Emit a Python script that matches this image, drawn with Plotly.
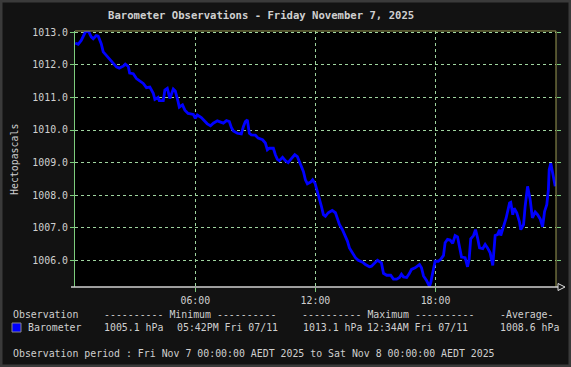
import plotly.graph_objects as go

W, H = 571, 367
ML, MR, MT, MB = 75, 15, 31, 80
PW, PH = W - ML - MR, H - MT - MB

def px(x):
    return (x - ML) / PW

def py(y):
    return (H - MB - y) / PH

# ---- data (hours since midnight, hPa) ----
hours = [0, 0.15, 0.3, 0.5, 0.65, 0.8, 0.9, 1.05, 1.15, 1.3, 1.4, 1.55, 1.73, 1.9, 2.06, 2.2, 2.4, 2.5,
         2.65, 2.72, 2.9, 3.06, 3.2, 3.4, 3.56, 3.73, 3.9, 3.98, 4.14, 4.2, 4.4, 4.48, 4.6, 4.73, 4.9, 5.0,
         5.14, 5.2, 5.36, 5.48, 5.64, 5.9, 6.0, 6.1, 6.3, 6.47, 6.6, 6.76, 6.9, 7.1, 7.26, 7.4, 7.56, 7.7,
         7.8, 7.9, 8.1, 8.3, 8.4, 8.5, 8.6, 8.7, 8.8, 9.0, 9.14, 9.36, 9.5, 9.6, 9.7, 9.9, 10.0, 10.1, 10.2,
         10.36, 10.5, 10.64, 10.8, 10.97, 11.1, 11.26, 11.4, 11.5, 11.6, 11.76, 11.86, 11.98, 12.1, 12.2,
         12.3, 12.4, 12.5, 12.64, 12.84, 13.0, 13.1, 13.2, 13.35, 13.5, 13.6, 13.7, 13.86, 14.0, 14.14,
         14.36, 14.5, 14.7, 14.8, 15.0, 15.1, 15.3, 15.4, 15.56, 15.76, 15.9, 16.06, 16.2, 16.3, 16.4,
         16.56, 16.7, 16.8, 16.98, 17.1, 17.2, 17.3, 17.4, 17.56, 17.7, 17.76, 17.86, 17.98, 18.14, 18.26,
         18.4, 18.48, 18.6, 18.73, 18.86, 18.98, 19.1, 19.2, 19.3, 19.48, 19.6, 19.68, 19.76, 19.9, 20.0,
         20.1, 20.2, 20.36, 20.48, 20.6, 20.73, 20.86, 20.98, 21.1, 21.2, 21.26, 21.4, 21.53, 21.7, 21.76,
         21.86, 21.93, 22.06, 22.2, 22.26, 22.4, 22.48, 22.6, 22.73, 22.84, 22.98, 23.1, 23.23, 23.35,
         23.45, 23.56, 23.64, 23.68, 23.76, 23.84, 23.93, 23.98]
pressure = [1012.67, 1012.63, 1012.75, 1013.0, 1013.05, 1012.86, 1012.8, 1012.9, 1012.88, 1012.65, 1012.4,
            1012.3, 1012.15, 1012.06, 1011.94, 1011.9, 1011.96, 1012.02, 1011.95, 1011.75, 1011.73, 1011.58,
            1011.51, 1011.43, 1011.30, 1011.32, 1011.13, 1010.94, 1011.0, 1010.9, 1010.9, 1011.23, 1011.28,
            1010.97, 1011.26, 1011.2, 1010.87, 1010.7, 1010.77, 1010.61, 1010.51, 1010.48, 1010.36, 1010.46,
            1010.38, 1010.26, 1010.19, 1010.13, 1010.21, 1010.28, 1010.24, 1010.21, 1010.29, 1010.26,
            1010.08, 1009.97, 1009.9, 1009.88, 1010.1, 1010.26, 1010.31, 1009.9, 1009.85, 1009.84, 1009.75,
            1009.7, 1009.6, 1009.39, 1009.44, 1009.44, 1009.24, 1009.1, 1009.06, 1009.16, 1009.06, 1009.0,
            1009.12, 1009.24, 1009.18, 1008.93, 1008.73, 1008.47, 1008.35, 1008.4, 1008.47, 1008.37,
            1008.12, 1007.86, 1007.66, 1007.40, 1007.35, 1007.46, 1007.53, 1007.46, 1007.3, 1007.1,
            1006.94, 1006.74, 1006.59, 1006.38, 1006.23, 1006.08, 1006.0, 1005.94, 1005.87, 1005.80,
            1005.82, 1005.94, 1006.0, 1005.92, 1005.6, 1005.54, 1005.54, 1005.42, 1005.42, 1005.47,
            1005.57, 1005.49, 1005.47, 1005.6, 1005.72, 1005.77, 1005.82, 1005.87, 1005.77, 1005.52,
            1005.37, 1005.2, 1005.31, 1005.57, 1005.97, 1005.97, 1006.03, 1006.15, 1006.54, 1006.64,
            1006.62, 1006.52, 1006.76, 1006.72, 1006.38, 1006.1, 1006.08, 1005.80, 1006.03, 1006.66,
            1006.76, 1006.94, 1006.69, 1006.38, 1006.36, 1006.49, 1006.38, 1006.23, 1005.84, 1006.76,
            1006.79, 1006.94, 1006.76, 1007.06, 1007.3, 1007.76, 1007.78, 1007.4, 1007.6, 1007.46,
            1007.17, 1006.94, 1007.1, 1007.66, 1008.27, 1007.86, 1007.3, 1007.48, 1007.4, 1007.27,
            1007.03, 1007.5, 1007.71, 1008.17, 1008.78, 1008.98, 1008.68, 1008.42, 1008.27]

x_tickvals = [6, 12, 18]
x_ticktext = ["06:00", "12:00", "18:00"]
y_tickvals = [1006, 1007, 1008, 1009, 1010, 1011, 1012, 1013]
y_range = [1005.18, 1013.04]

title = "Barometer Observations - Friday November 7, 2025"
y_title = "Hectopascals"
series_name = "Barometer"
min_text, min_time = "1005.1 hPa", "05:42PM Fri 07/11"
max_text, max_time = "1013.1 hPa", "12:34AM Fri 07/11"
avg_text = "1008.6 hPa"
period = "Observation period : Fri Nov 7 00:00:00 AEDT 2025 to Sat Nov 8 00:00:00 AEDT 2025"

MONO = "DejaVu Sans Mono"
TXT = "#cfcfcf"
GRID = "#9fd49f"
TICK = "#7ccc7c"
OLIVE = "#9a9a52"
FS = 9.9

fig = go.Figure()
fig.add_trace(go.Scatter(x=hours, y=pressure, mode="lines",
                         line=dict(color="#0000ff", width=2.8), name=series_name,
                         showlegend=False))

fig.update_layout(
    width=W, height=H,
    margin=dict(l=ML, r=MR, t=MT, b=MB),
    paper_bgcolor="#121212", plot_bgcolor="#000000",
    font=dict(family=MONO, color=TXT, size=FS),
    xaxis=dict(range=[-0.01, 24.02], tickvals=x_tickvals, ticktext=x_ticktext,
               showgrid=True, gridcolor=GRID, griddash="dot", gridwidth=1,
               ticks="outside", ticklen=4, tickcolor=TICK,
               tickfont=dict(family=MONO, size=FS, color=TXT),
               showline=False, zeroline=False, fixedrange=True),
    yaxis=dict(range=y_range, tickvals=y_tickvals, tickformat=".1f",
               showgrid=True, gridcolor=GRID, griddash="dot", gridwidth=1,
               ticks="outside", ticklen=4, tickcolor=TICK,
               showline=True, linecolor=TICK, linewidth=1,
               tickfont=dict(family=MONO, size=FS, color=TXT),
               zeroline=False, fixedrange=True),
    yaxis2=dict(range=y_range, tickvals=y_tickvals, overlaying="y", side="right",
                showgrid=False, showticklabels=False, ticks="outside", ticklen=4,
                tickcolor=TICK, showline=False, zeroline=False, fixedrange=True),
)
# invisible trace to activate the right-hand tick axis
fig.add_trace(go.Scatter(x=[hours[0]], y=[pressure[0]], yaxis="y2", mode="markers",
                         marker=dict(opacity=0), showlegend=False, hoverinfo="skip"))

shapes = [
    dict(type="rect", xref="paper", yref="paper", x0=px(1), x1=px(W - 1), y0=py(H - 1), y1=py(1),
         line=dict(color="#3a3a3a", width=3), layer="below"),
    dict(type="line", xref="paper", yref="paper", x0=0, x1=1, y0=1, y1=1,
         line=dict(color=OLIVE, width=1)),
    dict(type="line", xref="paper", yref="paper", x0=1, x1=1, y0=0, y1=1,
         line=dict(color=OLIVE, width=1)),
    dict(type="line", xref="paper", yref="paper", x0=px(71), x1=px(560), y0=0, y1=0,
         line=dict(color="#d0d0d0", width=1.5)),
    dict(type="path", xref="paper", yref="paper",
         path=f"M {px(558)},{py(283.5)} L {px(565)},{py(287)} L {px(558)},{py(290.5)} Z",
         line=dict(color="#e0e0e0", width=1), fillcolor="#121212"),
    dict(type="rect", xref="paper", yref="paper", x0=px(12), x1=px(21), y0=py(332), y1=py(323),
         line=dict(color="#888888", width=1), fillcolor="#0000ff"),
]
fig.update_layout(shapes=shapes)

def txt(x, y, s, size=FS, bold=False, anchor="left", angle=0):
    if bold:
        s = "<b>" + s + "</b>"
    return dict(xref="paper", yref="paper", x=px(x), y=py(y), text=s, showarrow=False,
                xanchor=anchor, yanchor="middle", textangle=angle,
                font=dict(family=MONO, size=size, color=TXT))

annos = [
    txt(261, 15, title, size=10.6, bold=True, anchor="center"),
    txt(14, 160, y_title, anchor="center", angle=-90),
    txt(11, 314.5, "Observation"),
    txt(102, 314.5, "---------- Minimum ----------"),
    txt(300, 314.5, "---------- Maximum ----------"),
    txt(498, 314.5, "-Average-"),
    txt(26, 327.5, series_name),
    txt(102, 327.5, min_text),
    txt(175, 327.5, min_time),
    txt(301, 327.5, max_text),
    txt(365, 327.5, max_time),
    txt(498, 327.5, avg_text),
    txt(11, 353, period),
]
fig.update_layout(annotations=annos)

fig.write_html("out.html")
